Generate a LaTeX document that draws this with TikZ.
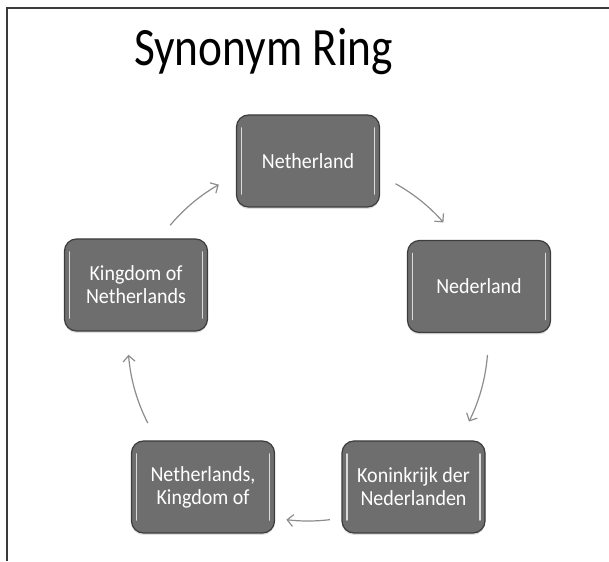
\documentclass[tikz,border=0pt]{standalone}
\usepackage{fontspec}
\setmainfont{Carlito}
\newfontfamily\synfont[FakeStretch=0.93]{Carlito}
\newfontfamily\titlefont[FakeStretch=0.84]{Carlito}
\usetikzlibrary{arrows.meta,shadows,calc}
\definecolor{boxfill}{HTML}{6E6E6E}
\definecolor{boxline}{HTML}{3C3C3C}
\definecolor{arrowgray}{HTML}{8C8C8C}
\definecolor{framegray}{HTML}{3A3A3A}
\begin{document}
\begin{tikzpicture}[x=1pt,y=1pt,
  synbox/.style={draw=boxline, line width=1.2pt, fill=boxfill, rounded corners=12pt,
    minimum width=143pt, minimum height=92pt, inner sep=0pt, text=white, align=center,
    font=\synfont\fontsize{21.5}{23}\selectfont,
    drop shadow={shadow xshift=0pt, shadow yshift=-2pt, opacity=0.25},
    path picture={
      \draw[white, opacity=0.75, line width=1.6pt, line cap=round]
        ([xshift=5pt,yshift=-13pt]path picture bounding box.north west) --
        ([xshift=5pt,yshift=13pt]path picture bounding box.south west);
      \draw[white, opacity=0.75, line width=1.6pt, line cap=round]
        ([xshift=-5pt,yshift=-13pt]path picture bounding box.north east) --
        ([xshift=-5pt,yshift=13pt]path picture bounding box.south east);
    }},
  ringarrow/.style={draw=arrowgray, line width=1.2pt, -{Straight Barb[length=6pt,width=12pt]}}
]
\useasboundingbox (0,0) rectangle (609,561);
\draw[framegray, line width=1.8pt] (7,0) -- (7,553) -- (609,553);
\node[anchor=base, font=\titlefont\fontsize{54}{60}\selectfont] (title) at (263.5,495) {Synonym Ring};

\node[synbox] (n1) at (308,400) {Netherland};
\node[synbox] (n2) at (479,274.5) {Nederland};
\node[synbox] (n3) at (413.5,74) {Koninkrijk der\\Nederlanden};
\node[synbox] (n4) at (203,74) {Netherlands,\\Kingdom of};
\node[synbox] (n5) at (136,276) {Kingdom of\\Netherlands};

\coordinate (ctr) at (308,220);
\coordinate (a1) at ($(ctr)+(60.9:180)$);
\coordinate (a2) at ($(ctr)+(-4.4:180)$);
\coordinate (a3) at ($(ctr)+(-83:180)$);
\coordinate (a4) at ($(ctr)+(207.1:180)$);
\coordinate (a5) at ($(ctr)+(140:180)$);
\draw[ringarrow] (a1) arc[start angle=60.9, end angle=41.2, radius=180];
\draw[ringarrow] (a2) arc[start angle=-4.4, end angle=-26.6, radius=180];
\draw[ringarrow] (a3) arc[start angle=-83, end angle=-96.9, radius=180];
\draw[ringarrow] (a4) arc[start angle=207.1, end angle=184.4, radius=180];
\draw[ringarrow] (a5) arc[start angle=140, end angle=119.7, radius=180];
\end{tikzpicture}
\end{document}
